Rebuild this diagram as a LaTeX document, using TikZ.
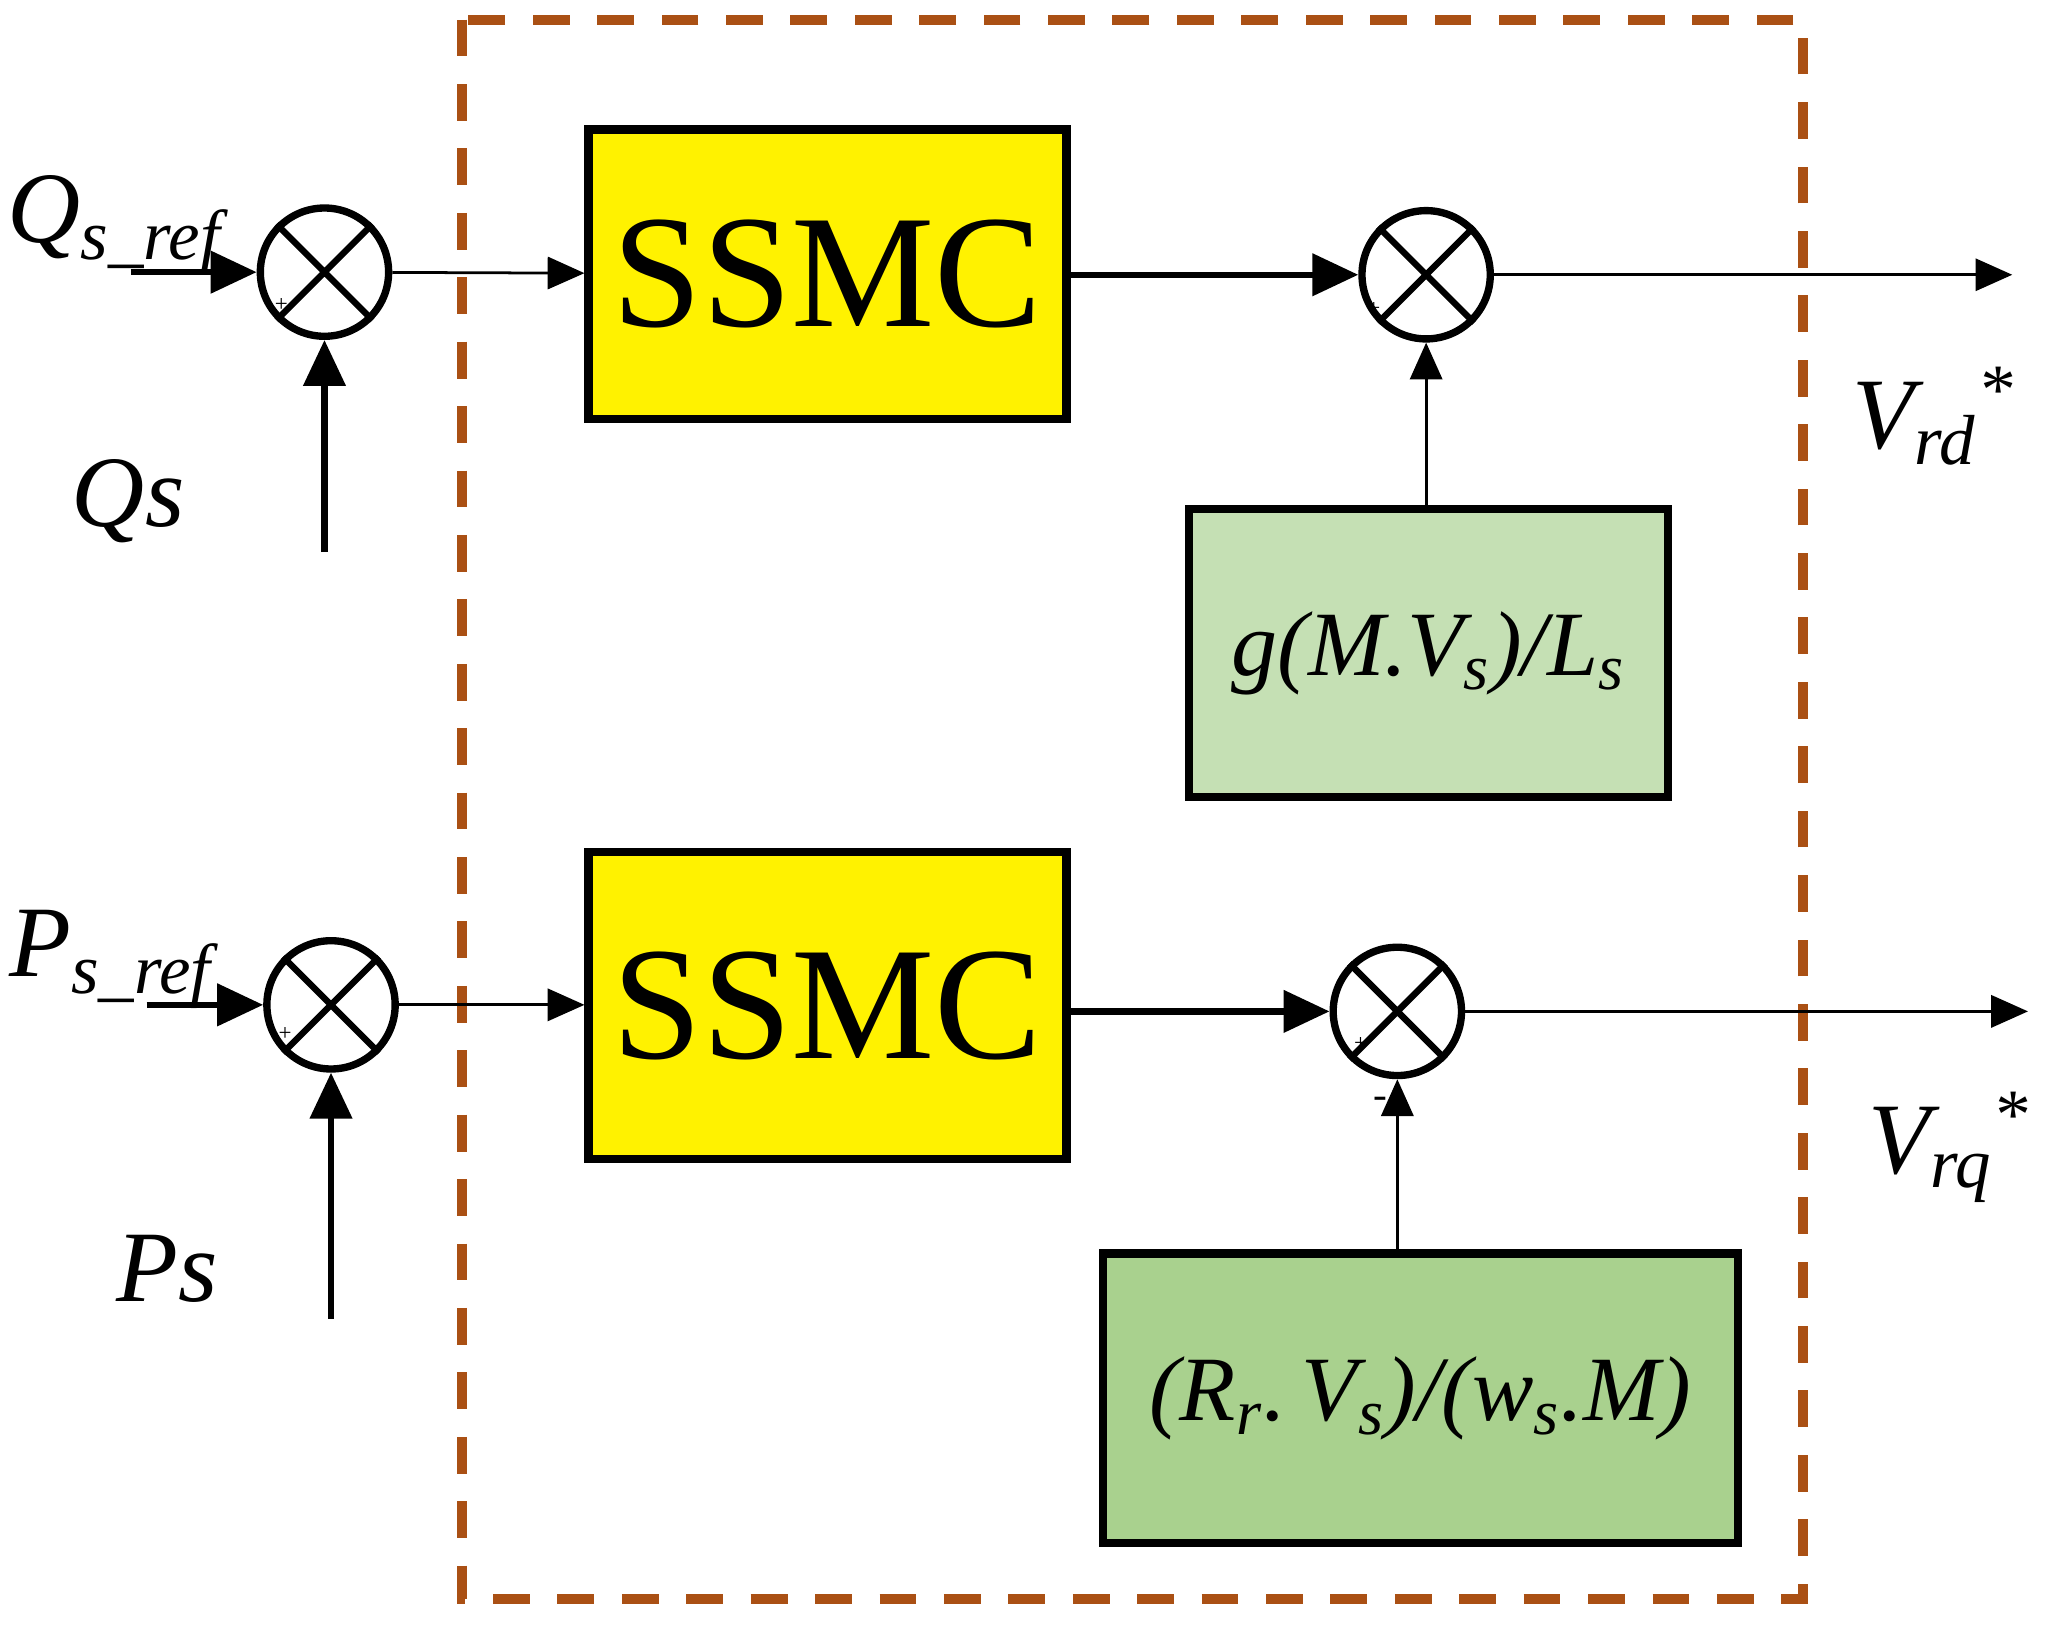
\documentclass[tikz,border=0pt]{standalone}
\usepackage{fontspec}
\setmainfont{Liberation Serif}
\usetikzlibrary{arrows.meta}
\definecolor{dbrown}{RGB}{170,80,20}
\newcommand{\sbs}[1]{\textsubscript{#1}}
\newcommand{\sps}[1]{\textsuperscript{#1}}
\begin{document}
\begin{tikzpicture}[x=0.01cm,y=-0.01cm,
  sum/.style={circle,draw,line width=1.6pt,minimum size=0.98cm,inner sep=0pt},
  blk/.style={draw,line width=1.8pt,inner sep=0pt},
  thin/.style={-{Triangle[length=8pt,width=7pt]},line width=0.6pt},
  thick/.style={-{Triangle[length=10pt,width=9pt]},line width=1.4pt},
  lab/.style={font=\fontsize{22}{24}\selectfont\itshape},
  ssmc/.style={font=\fontsize{35}{38}\selectfont}]
\useasboundingbox (0,0) rectangle (1563,1245);
\draw[draw=dbrown,line width=2.2pt,dash pattern=on 8pt off 6pt] (353,15) rectangle (1378,1222);
\node[sum] (s1) at (248,208) {};
\node[sum] (s2) at (1090,210) {};
\node[sum] (s3) at (253,768) {};
\node[sum] (s4) at (1068,773) {};
\foreach \s in {s1,s2,s3,s4}{
  \draw[line width=1.4pt] (\s.north west) -- (\s.south east) (\s.north east) -- (\s.south west);}
\node[blk,fill=yellow,minimum width=3.65cm,minimum height=2.21cm,ssmc] (b1) at (632.5,209.5) {SSMC};
\node[blk,fill=yellow,minimum width=3.65cm,minimum height=2.35cm,ssmc] (b2) at (632.5,768.5) {SSMC};
\node[blk,fill={rgb,255:red,197;green,224;blue,180},minimum width=3.66cm,minimum height=2.2cm,font=\fontsize{20}{22}\selectfont\itshape] (g1) at (1092,499) {g(M.V\sbs{s})/L\sbs{s}};
\node[blk,fill={rgb,255:red,169;green,209;blue,142},minimum width=4.85cm,minimum height=2.21cm,font=\fontsize{20}{22}\selectfont\itshape] (g2) at (1085.5,1068.5) {(R\sbs{r}.\,V\sbs{s})/(w\sbs{s}.M)};
\coordinate (i1) at (100,208);
\coordinate (i2) at (248,422);
\coordinate (i3) at (112,768);
\coordinate (i4) at (253,1008);
\coordinate (o1) at (1538,210);
\coordinate (o2) at (1550,773);
\draw[thick] (i1) -- (s1);
\draw[thick] (i2) -- (s1);
\draw[thin] (s1) -- (b1);
\draw[thick] (b1.east |- s2) -- (s2);
\draw[thin] (g1.north -| s2) -- (s2);
\draw[thin] (s2) -- (o1);
\draw[thick] (i3) -- (s3);
\draw[thick] (i4) -- (s3);
\draw[thin] (s3) -- (b2.west |- s3);
\draw[thick] (b2.east |- s4) -- (s4);
\draw[thin] (g2.north -| s4) -- (s4);
\draw[thin] (s4) -- (o2);
\node[lab] (l1) at (88,172) {Q\sbs{s\_ref}};
\node[lab] (l2) at (98,383) {Qs};
\node[lab] (l3) at (85,733) {P\sbs{s\_ref}};
\node[lab] (l4) at (128,970) {Ps};
\node[lab] (l5) at (1478,318) {V\sbs{rd}\sps{*}};
\node[lab] (l6) at (1490,877) {V\sbs{rq}\sps{*}};
\node[font=\tiny] (p1) at (215,233) {+};
\node[font=\tiny] (p2) at (1050,236) {+};
\node[font=\tiny] (p3) at (218,790) {+};
\node[font=\tiny] (p4) at (1040,798) {+};
\node[font=\small] (m4) at (1055,843) {-};
\end{tikzpicture}
\end{document}
